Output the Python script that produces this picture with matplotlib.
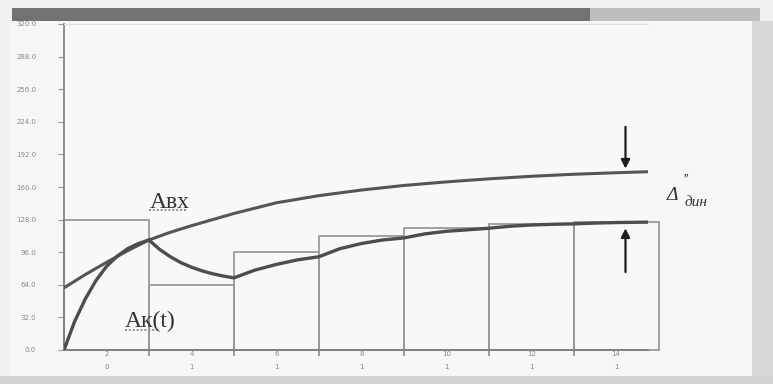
import matplotlib.pyplot as plt
from matplotlib.patches import Rectangle

# one group on the time axis spans 2 units
step_edges = [0, 2, 4, 6, 8, 10, 12, 14]
step_level = [128, 64, 96, 112, 120, 124, 126]

# A_вх : input signal
t_in = [0, 0.5, 1.0, 1.5, 2.0, 2.5, 3.0, 3.5, 4.0, 5.0, 6.0, 7.0, 8.0,
        9.0, 10.0, 11.0, 12.0, 13.0, 13.75]
a_in = [61, 74, 86, 97.5, 108, 115.5, 122, 128, 134, 144.5, 151.5, 157,
        161.5, 165, 168, 170.5, 172.5, 174, 175]

# A_к(t) : response
t_k = [0, 0.25, 0.5, 0.75, 1.0, 1.25, 1.5, 1.75, 2.0,
       2.25, 2.5, 2.75, 3.0, 3.25, 3.5, 3.75, 4.0,
       4.5, 5.0, 5.5, 6.0, 6.5, 7.0, 7.5, 8.0,
       8.5, 9.0, 9.5, 10.0, 10.5, 11.0, 11.5, 12.0,
       12.5, 13.0, 13.5, 13.75]
a_k = [0, 28, 50, 68, 82, 92, 99.5, 104.5, 108,
       98.8, 91.6, 85.8, 81.3, 77.7, 74.8, 72.6, 70.8,
       78.5, 84, 88.5, 91.5, 99.5, 104.5, 108, 110,
       114, 116.5, 118, 119.5, 121.5, 122.7, 123.4, 123.8,
       124.6, 125.1, 125.4, 125.5]

group_top = ['2', '4', '6', '8', '10', '12', '14']
group_bottom = ['0', '1', '1', '1', '1', '1', '1']
y_ticks = [0, 32, 64, 96, 128, 160, 192, 224, 256, 288, 320]

W, H = 773, 384
fig = plt.figure(figsize=(W / 100, H / 100), dpi=100, facecolor='#f1f1f1')


def px_rect(x0, y0, x1, y1, color):
    fig.add_artist(Rectangle((x0 / W, 1 - y1 / H), (x1 - x0) / W, (y1 - y0) / H,
                             transform=fig.transFigure, color=color, lw=0, zorder=0))


# window frame around the chart
px_rect(10, 21, 752, 376, '#f6f6f6')
px_rect(12, 8, 590, 21, '#727272')
px_rect(590, 8, 760, 21, '#bdbdbd')
px_rect(752, 21, 773, 384, '#d8d8d8')
px_rect(0, 376, 773, 384, '#d4d4d4')

ax = fig.add_axes([64 / W, 34 / H, 584 / W, 326 / H])
ax.set_facecolor('#f8f8f8')

# stepped input as outlined columns
ax.bar(step_edges[:-1], step_level, width=2, align='edge', fill=False,
       edgecolor='#9a9a9a', linewidth=1.3, clip_on=False, zorder=2)

ax.plot(t_in, a_in, color='#555555', lw=2.2, solid_capstyle='butt', zorder=3)
ax.plot(t_k, a_k, color='#4d4d4d', lw=2.4, solid_capstyle='butt', zorder=3)

ax.set_xlim(0, 13.75)
ax.set_ylim(0, 320)

ax.set_yticks(y_ticks)
ax.set_yticklabels([f'{v:.1f}' for v in y_ticks], fontsize=5, color='#8a8a8a')
ax.tick_params(axis='y', length=4, width=0.8, color='#999999', pad=16)

ax.set_xticks(step_edges[1:-1])
ax.set_xticklabels([])
ax.tick_params(axis='x', which='major', length=4, width=1.2, color='#8a8a8a')
ax.set_xticks([e + 1 for e in step_edges[:-1]], minor=True)
ax.set_xticklabels([f'{a}\n{b}' for a, b in zip(group_top, group_bottom)],
                   minor=True, fontsize=5, color='#8a8a8a', linespacing=2.4)
ax.tick_params(axis='x', which='minor', length=0, pad=1)

for side in ['left', 'bottom']:
    ax.spines[side].set_color('#7d7d7d')
    ax.spines[side].set_linewidth(1.2)
ax.spines['top'].set_color('#e2e2e2')
ax.spines['right'].set_visible(False)

serif = 'Liberation Serif'
ax.text(2.02, 139, 'Aвх', family=serif, fontsize=17, color='#333333')
ax.plot([2.0, 2.9], [137, 137], ls=(0, (1, 1)), lw=1.4, color='#8a8a8a')
ax.text(1.44, 22.5, 'Aк(t)', family=serif, fontsize=17, color='#333333')
ax.plot([1.44, 2.27], [19.5, 19.5], ls=(0, (1, 1)), lw=1.4, color='#8a8a8a')

# arrows marking the gap between the two curves at the end
x_arrow = 13.22
ax.annotate('', xy=(x_arrow, a_in[-1] + 3), xytext=(x_arrow, a_in[-1] + 44),
            arrowprops=dict(arrowstyle='-|>', lw=1.6, color='#1e1e1e',
                            mutation_scale=13, shrinkA=0, shrinkB=0),
            annotation_clip=False)
ax.annotate('', xy=(x_arrow, a_k[-1] - 6), xytext=(x_arrow, a_k[-1] - 49),
            arrowprops=dict(arrowstyle='-|>', lw=1.6, color='#1e1e1e',
                            mutation_scale=13, shrinkA=0, shrinkB=0),
            annotation_clip=False)

ax.text(14.2, 147, 'Δ', family=serif, style='italic', fontsize=14, color='#333333')
ax.text(14.55, 163, "''", family=serif, style='italic', fontsize=10, color='#333333')
ax.text(14.6, 141, 'дин', family=serif, style='italic', fontsize=11, color='#333333')

fig.savefig('out.png', dpi=100, facecolor=fig.get_facecolor())
